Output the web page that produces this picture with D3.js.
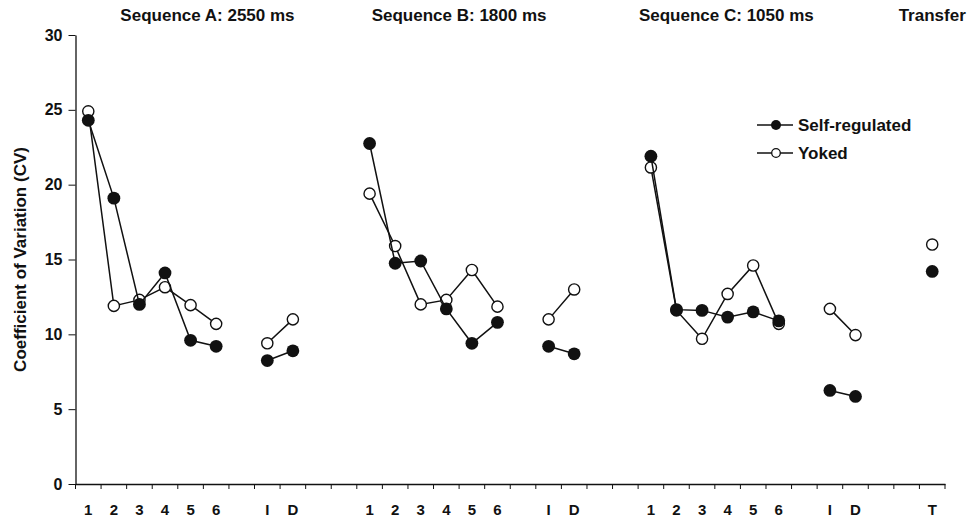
<!DOCTYPE html>
<html>
<head>
<meta charset="utf-8">
<script src="https://cdn.jsdelivr.net/npm/d3@7/dist/d3.min.js"></script>
<style>
  html, body { margin: 0; padding: 0; background: #fff; }
  svg { display: block; }
  text { font-family: "Liberation Sans", Arial, Helvetica, sans-serif; font-weight: bold; fill: #111; }
</style>
</head>
<body>
<svg id="chart" width="977" height="520"></svg>
<script>
// ---- Data ----
// 34 slots along the x axis (gaps included so spacing matches the figure)
const slots = [
  "A-1","A-2","A-3","A-4","A-5","A-6","A-gap","A-I","A-D","gap-1","gap-2",
  "B-1","B-2","B-3","B-4","B-5","B-6","B-gap","B-I","B-D","gap-3","gap-4",
  "C-1","C-2","C-3","C-4","C-5","C-6","C-gap","C-I","C-D","gap-5","gap-6",
  "T"
];
const tickLabels = [
  "1","2","3","4","5","6","","I","D","","",
  "1","2","3","4","5","6","","I","D","","",
  "1","2","3","4","5","6","","I","D","","",
  "T"
];
const selfRegulated = [
  24.3, 19.1, 12.0, 14.1, 9.6, 9.2, null, 8.25, 8.9, null, null,
  22.75, 14.75, 14.9, 11.7, 9.4, 10.8, null, 9.2, 8.7, null, null,
  21.9, 11.65, 11.6, 11.15, 11.5, 10.9, null, 6.25, 5.85, null, null,
  14.2
];
const yoked = [
  24.9, 11.9, 12.3, 13.15, 11.95, 10.7, null, 9.4, 11.0, null, null,
  19.4, 15.9, 12.0, 12.3, 14.3, 11.85, null, 11.0, 13.0, null, null,
  21.15, 11.6, 9.7, 12.7, 14.6, 10.7, null, 11.7, 9.95, null, null,
  16.0
];
const yTicks = [0, 5, 10, 15, 20, 25, 30];
const panelTitles = ["Sequence A: 2550 ms", "Sequence B: 1800 ms", "Sequence C: 1050 ms", "Transfer"];
const panelTitleSlots = [4.66, 14.5, 24.95, 33.0]; // slot centre under each title
const seriesNames = ["Self-regulated", "Yoked"];

// ---- Layout ----
const svg = d3.select("#chart");
const mLeft = 75.5, mRight = 945, mTop = 35, mBottom = 484;

const x = d3.scaleBand().domain(slots).range([mLeft, mRight]).padding(0);
const y = d3.scaleLinear().domain([0, 30]).range([mBottom, mTop]);
const xCenter = s => x(s) + x.bandwidth() / 2;
const slotPos = k => mLeft + x.bandwidth() * (k + 0.5);

// Y axis
const yAxis = svg.append("g")
  .attr("transform", `translate(${mLeft},0)`)
  .call(d3.axisLeft(y).tickValues(yTicks).tickSize(7).tickSizeOuter(0).tickPadding(6));
yAxis.select(".domain").attr("stroke", "#111").attr("stroke-width", 1.3);
yAxis.selectAll(".tick line").attr("stroke", "#111").attr("stroke-width", 1);
yAxis.selectAll("text").style("font-size", "16px").style("font-weight", "bold")
  .style("font-family", '"Liberation Sans", Arial, sans-serif').attr("fill", "#111");

// X axis (labels centred in bands, ticks at band boundaries)
const xAxis = svg.append("g")
  .attr("transform", `translate(0,${mBottom})`)
  .call(d3.axisBottom(x).tickSize(0).tickSizeOuter(0).tickPadding(20)
    .tickFormat(d => tickLabels[slots.indexOf(d)]));
xAxis.select(".domain").attr("stroke", "#111").attr("stroke-width", 1.3);
xAxis.selectAll("text").style("font-size", "15px").style("font-weight", "bold")
  .style("font-family", '"Liberation Sans", Arial, sans-serif').attr("fill", "#111");
const boundaries = slots.map(s => x(s)).concat([x(slots[slots.length - 1]) + x.bandwidth()]);
xAxis.selectAll("line.bound").data(boundaries).enter().append("line")
  .attr("class", "bound")
  .attr("x1", d => d).attr("x2", d => d)
  .attr("y1", 0).attr("y2", 5)
  .attr("stroke", "#111").attr("stroke-width", 1);

// Y axis title
svg.append("text")
  .attr("transform", `translate(26,${(mTop + mBottom) / 2}) rotate(-90)`)
  .attr("text-anchor", "middle")
  .style("font-size", "17px")
  .text("Coefficient of Variation (CV)");

// Panel titles
svg.selectAll("text.ptitle").data(panelTitles).enter().append("text")
  .attr("class", "ptitle")
  .attr("x", (d, i) => slotPos(panelTitleSlots[i]))
  .attr("y", 21)
  .attr("text-anchor", "middle")
  .style("font-size", "17px")
  .text(d => d);

// Series
const line = d3.line()
  .defined(d => d.v != null)
  .x(d => xCenter(d.s))
  .y(d => y(d.v));

function drawSeries(values, filled) {
  const pts = slots.map((s, i) => ({ s, v: values[i] }));
  svg.append("path").datum(pts)
    .attr("d", line)
    .attr("fill", "none")
    .attr("stroke", "#111")
    .attr("stroke-width", 1.5);
  svg.append("g").selectAll("circle")
    .data(pts.filter(d => d.v != null)).enter().append("circle")
    .attr("cx", d => xCenter(d.s))
    .attr("cy", d => y(d.v))
    .attr("r", filled ? 6.4 : 5.6)
    .attr("fill", filled ? "#111" : "#fff")
    .attr("stroke", "#111")
    .attr("stroke-width", filled ? 0 : 1.4);
}
drawSeries(yoked, false);
drawSeries(selfRegulated, true);

// Legend
const legend = svg.append("g").attr("transform", "translate(757,125)");
seriesNames.forEach((name, i) => {
  const g = legend.append("g").attr("transform", `translate(0,${i * 28})`);
  g.append("line").attr("x1", 0).attr("x2", 36).attr("y1", 0).attr("y2", 0)
    .attr("stroke", "#111").attr("stroke-width", 1.3);
  g.append("circle").attr("cx", 19).attr("cy", 0)
    .attr("r", i === 0 ? 5 : 4.3)
    .attr("fill", i === 0 ? "#111" : "#fff")
    .attr("stroke", "#111").attr("stroke-width", i === 0 ? 0 : 1.3);
  g.append("text").attr("x", 41).attr("y", 6).style("font-size", "17px").text(name);
});
</script>
</body>
</html>
